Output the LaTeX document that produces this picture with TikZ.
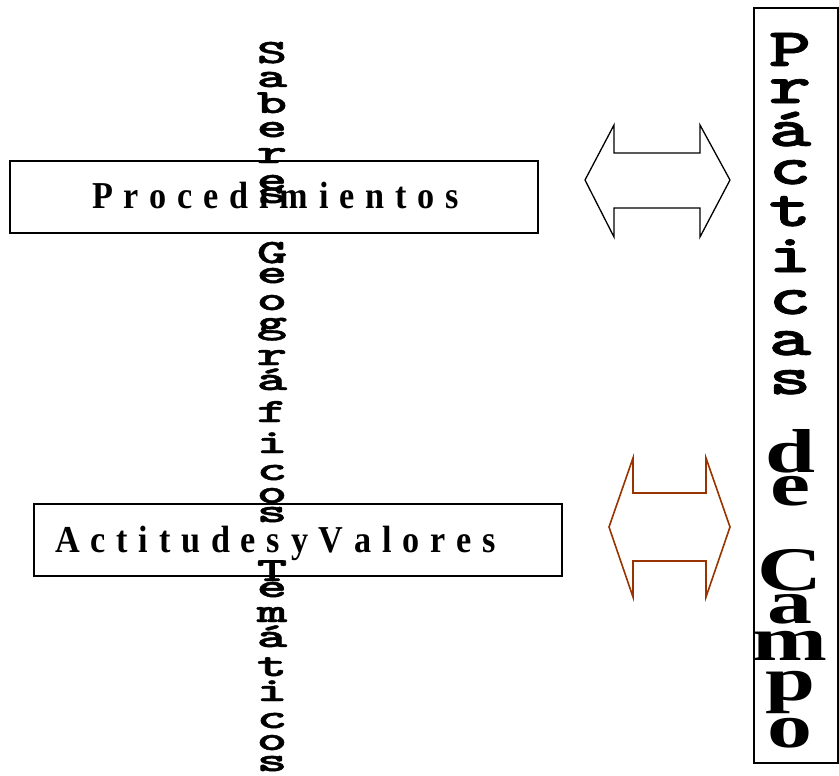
\documentclass[tikz,border=0pt]{standalone}
\usepackage{fontspec}
\usepackage{graphicx}
\setmainfont{Liberation Serif}
\newfontfamily\heavymono{lmmonolt10-bold.otf}[FakeBold=1.2]
\definecolor{brownarrow}{RGB}{153,51,0}
\newcommand\lsp{\kern 12pt}
\begin{document}
\begin{tikzpicture}[x=1pt,y=-1pt,
  boxstyle/.style={draw=black, line width=1.3pt, inner sep=0pt, outer sep=0pt},
  boxtext/.style={anchor=base west, inner sep=0pt, font=\fontsize{38}{38}\selectfont\bfseries},
  vlet/.style={anchor=base, inner sep=0pt, font=\fontsize{34}{34}\selectfont\heavymono},
  rmono/.style={anchor=base, inner sep=0pt, font=\fontsize{54}{54}\selectfont\heavymono},
  rserif/.style={anchor=base, inner sep=0pt, font=\fontsize{62}{62}\selectfont\bfseries},
  dblarrow/.style={line width=1.3pt, line join=miter}]
\useasboundingbox (0,0) rectangle (839,776);
% boxes
\node[boxstyle, minimum width=528pt, minimum height=72pt] (proc) at (274,197) {};
\node[boxstyle, minimum width=528pt, minimum height=72pt] (acti) at (298,540) {};
\node[boxstyle, minimum width=84pt, minimum height=755pt] (prac) at (796,385.5) {};
% box texts
\node[boxtext] (proctext) at (92,208) {\scalebox{0.9}[1]{P\lsp r\lsp o\lsp c\lsp e\lsp d\lsp i\lsp m\lsp i\lsp e\lsp n\lsp t\lsp o\lsp s}};
\node[boxtext] (actitext) at (55,552) {\scalebox{0.9}[1]{A\lsp c\lsp t\lsp i\lsp t\lsp u\lsp d\lsp e\lsp s\lsp y\lsp V\lsp a\lsp l\lsp o\lsp r\lsp e\lsp s}};
% vertical text Saberes Geograficos Tematicos
\foreach \l/\yy [count=\i] in {S/63, a/87, b/113, e/137, r/163, e/190, s/203,
   G/263, e/283, o/310, g/333, r/365, á/390, f/422, i/453, c/480, o/503, s/522,
   T/581, e/597, m/622, á/647, t/676, i/701, c/728, o/750, s/771}
  \node[vlet] (sab\i) at (272,\yy) {\scalebox{1.7}[1]{\l}};
% right column
\foreach \l/\yy [count=\i] in {P/66, r/103, á/146, c/184, t/226, i/272, c/314, a/355, s/394}
  \node[rmono] (pr\i) at (790,\yy) {\scalebox{1.5}[1]{\l}};
\foreach \l/\yy [count=\i] in {d/472, e/505, C/590, a/623, m/660, p/700, o/747}
  \node[rserif] (dc\i) at (790,\yy) {\scalebox{1.45}[1]{\l}};
% double arrows
\draw[dblarrow, black] (585,180) -- (614,125) -- (614,153) -- (700,153) -- (700,125) -- (730,180)
  -- (700,237) -- (700,208) -- (614,208) -- (614,237) -- cycle;
\draw[dblarrow, brownarrow, line width=1.6pt] (609,527) -- (633,458) -- (633,493) -- (706,493) -- (706,458) -- (730,527)
  -- (706,597) -- (706,561) -- (633,561) -- (633,597) -- cycle;
\end{tikzpicture}
\end{document}
